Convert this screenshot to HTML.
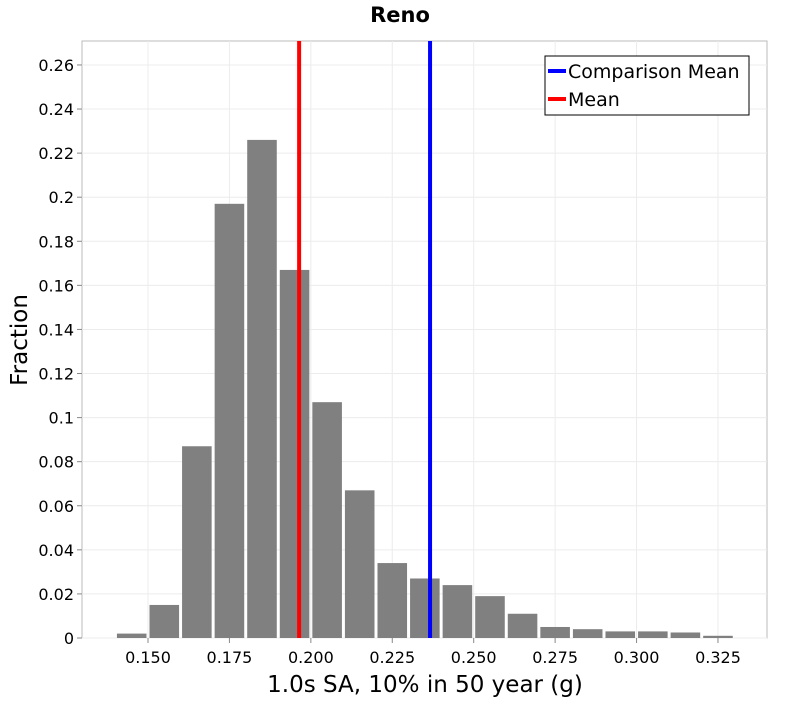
<!DOCTYPE html>
<html><head><meta charset="utf-8"><style>
body{margin:0;background:#fff;font-family:"DejaVu Sans","Liberation Sans",sans-serif}
</style></head><body>
<svg id="chart" width="800" height="700" xmlns="http://www.w3.org/2000/svg">
<text x="400" y="22" text-anchor="middle" font-size="21" font-weight="bold" font-family="DejaVu Sans, sans-serif">Reno</text>
<rect x="82" y="41" width="685" height="597" fill="#fff" stroke="#bbb"/>
<g id="grid"></g><g id="bars"></g><g id="lines"></g><g id="axes"></g>
<text x="425" y="692" text-anchor="middle" font-size="23">1.0s SA, 10% in 50 year (g)</text>
<text transform="translate(27,340) rotate(-90)" text-anchor="middle" font-size="23">Fraction</text>
<g>
<rect x="545" y="56" width="204" height="59" fill="#fff" stroke="#000"/>
<line x1="548" y1="71" x2="566" y2="71" stroke="#0000ff" stroke-width="4"/>
<text x="568" y="78" font-size="19">Comparison Mean</text>
<line x1="548" y1="99" x2="566" y2="99" stroke="#ff0000" stroke-width="4"/>
<text x="568" y="106" font-size="19">Mean</text>
</g>
</svg>
<script>
const binStarts=[0.14,0.15,0.16,0.17,0.18,0.19,0.20,0.21,0.22,0.23,0.24,0.25,0.26,0.27,0.28,0.29,0.30,0.31,0.32];
const fractions=[0.002,0.015,0.087,0.197,0.226,0.167,0.107,0.067,0.034,0.027,0.024,0.019,0.011,0.005,0.004,0.003,0.003,0.0025,0.001];
const binWidth=0.01;
const meanValue=0.1964;
const comparisonMean=0.2366;
const xTicks=[0.150,0.175,0.200,0.225,0.250,0.275,0.300,0.325];
const yTicks=[0,0.02,0.04,0.06,0.08,0.1,0.12,0.14,0.16,0.18,0.2,0.22,0.24,0.26];
const NS="http://www.w3.org/2000/svg";
function x(v){return 148+(v-0.150)*3257;}
function y(v){return 638-v*2204;}
function mk(tag,attrs,parent){const e=document.createElementNS(NS,tag);for(const k in attrs)e.setAttribute(k,attrs[k]);document.getElementById(parent).appendChild(e);return e;}
xTicks.forEach(t=>{
 const g=mk('line',{x1:x(t),x2:x(t),y1:41,y2:638,stroke:'#ececec'},'grid');
 
 
 const tk=mk('line',{x1:x(t),x2:x(t),y1:638,y2:643,stroke:'#888'},'axes');
 
 
 const l=mk('text',{x:x(t),y:663,'text-anchor':'middle','font-size':'16'},'axes');
 
 
 l.textContent=t.toFixed(3);
});
yTicks.forEach(t=>{
 const g=mk('line',{x1:82,x2:767,y1:y(t),y2:y(t),stroke:'#ececec'},'grid');
 
 
 const tk=mk('line',{x1:77,x2:82,y1:y(t),y2:y(t),stroke:'#888'},'axes');
 
 
 const l=mk('text',{x:74,y:y(t)+6,'text-anchor':'end','font-size':'16'},'axes');
 
 
 l.textContent=String(t);
});
binStarts.forEach((b,i)=>{
 const x0=x(b)+1.5,x1=x(b+binWidth)-1.5;
 const r=mk('rect',{x:x0,y:y(fractions[i]),width:x1-x0,height:638-y(fractions[i]),fill:'#808080'},'bars');
 
 
});
const m=mk('line',{x1:x(meanValue),x2:x(meanValue),y1:41,y2:638,stroke:'#ff0000','stroke-width':4},'lines');


const c=mk('line',{x1:x(comparisonMean),x2:x(comparisonMean),y1:41,y2:638,stroke:'#0000ff','stroke-width':4},'lines');


</script>
</body></html>
